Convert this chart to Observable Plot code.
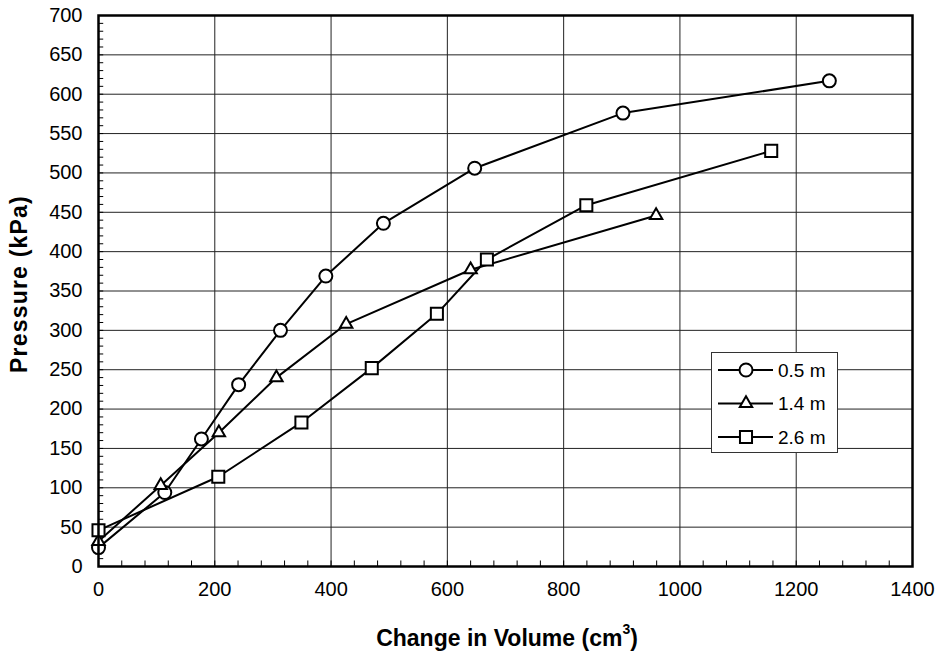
<!DOCTYPE html>
<html><head><meta charset="utf-8">
<script src="https://cdn.jsdelivr.net/npm/d3@7"></script>
<script src="https://cdn.jsdelivr.net/npm/@observablehq/plot@0.6"></script>
<style>
body{margin:0;background:#fff;font-family:"Liberation Sans",Arial,sans-serif;}
#wrap{position:relative;width:940px;height:660px;}
.ytitle{position:absolute;left:19px;top:284px;transform:translate(-50%,-50%) rotate(-90deg);font-weight:bold;font-size:23px;letter-spacing:1.2px;white-space:nowrap;}
.xtitle{position:absolute;left:507px;top:638px;transform:translate(-50%,-50%);font-weight:bold;font-size:23px;white-space:nowrap;}
.xtitle sup{font-size:14px;position:relative;top:-3px;}
#legend{position:absolute;left:711px;top:352px;width:125px;height:99px;border:1px solid #333;background:#fff;}
svg.chart text{font-size:20px;}
</style></head><body>
<div id="wrap"></div>
<script>
// ---- data ----
const seriesNames = ["0.5 m", "1.4 m", "2.6 m"];
const seriesSymbols = ["circle", "triangle", "square"];
const vol05 = [0, 114, 177, 241, 313, 391, 490, 647, 902, 1257];
const p05   = [24, 94, 162, 231, 300, 369, 436, 506, 576, 617];
const vol14 = [0, 107, 207, 306, 426, 640, 959];
const p14   = [32, 103, 170, 240, 308, 377, 446];
const vol26 = [0, 206, 349, 470, 582, 668, 839, 1157];
const p26   = [46, 114, 183, 252, 321, 390, 459, 528];
const xTicks = [0, 200, 400, 600, 800, 1000, 1200, 1400];
const yTicks = [0, 50, 100, 150, 200, 250, 300, 350, 400, 450, 500, 550, 600, 650, 700];
const xMinor = d3.range(0, 1401, 40);
const yMinor = d3.range(0, 701, 10);

const seriesX = [vol05, vol14, vol26];
const seriesY = [p05, p14, p26];
const data = seriesNames.flatMap((name, i) =>
  seriesX[i].map((x, j) => ({series: name, x, y: seriesY[i][j]})));
const symR = {circle: 6.5, triangle: 4.6, square: 6.8};

const plot = Plot.plot({
  width: 940, height: 660,
  marginLeft: 98, marginRight: 28, marginTop: 15, marginBottom: 94,
  className: "chart",
  style: {fontFamily: "'Liberation Sans', Arial, sans-serif", fontSize: "20px", color: "black", background: "white"},
  x: {domain: [0, 1400], label: null},
  y: {domain: [0, 700], label: null},
  marks: [
    Plot.gridX(xTicks, {stroke: "#222", strokeOpacity: 1, strokeWidth: 1}),
    Plot.gridY(yTicks, {stroke: "#222", strokeOpacity: 1, strokeWidth: 1}),
    Plot.ruleX(xMinor, {y1: 0, y2: 7, stroke: "black", strokeWidth: 1}),
    Plot.ruleY(yMinor, {x1: 0, x2: 9, stroke: "black", strokeWidth: 1}),
    Plot.line(data, {x: "x", y: "y", z: "series", stroke: "black", strokeWidth: 2}),
    ...seriesNames.map((name, i) => Plot.dot(data.filter(d => d.series === name), {
      x: "x", y: "y", symbol: seriesSymbols[i], r: symR[seriesSymbols[i]],
      fill: "white", stroke: "black", strokeWidth: 2
    })),
    Plot.axisX(xTicks, {tickSize: 0, tickPadding: 15, fontSize: 20, tickFormat: d => String(d), label: null}),
    Plot.axisY(yTicks, {tickSize: 0, tickPadding: 16, fontSize: 20, tickFormat: d => String(d), label: null}),
    Plot.frame({stroke: "black", strokeWidth: 2.5})
  ]
});

const wrap = document.getElementById("wrap");
wrap.appendChild(plot);

const yt = document.createElement("div");
yt.className = "ytitle"; yt.textContent = "Pressure (kPa)";
wrap.appendChild(yt);
const xt = document.createElement("div");
xt.className = "xtitle"; xt.innerHTML = "Change in Volume (cm<sup>3</sup>)";
wrap.appendChild(xt);

// legend
const leg = document.createElement("div");
leg.id = "legend";
wrap.appendChild(leg);
const lsvg = d3.select(leg).append("svg").attr("width", 125).attr("height", 99)
  .style("font-family", "'Liberation Sans', Arial, sans-serif").style("font-size", "19px");
const symMap = {circle: d3.symbolCircle, triangle: d3.symbolTriangle, square: d3.symbolSquare};
seriesNames.forEach((name, i) => {
  const cy = 17 + i * 33.5;
  const g = lsvg.append("g").attr("transform", `translate(0,${cy})`);
  g.append("line").attr("x1", 6).attr("x2", 61).attr("stroke", "black").attr("stroke-width", 2);
  const r = symR[seriesSymbols[i]];
  g.append("path").attr("transform", "translate(34,0)")
    .attr("d", d3.symbol(symMap[seriesSymbols[i]], r * r * Math.PI)())
    .attr("fill", "white").attr("stroke", "black").attr("stroke-width", 2);
  g.append("text").attr("x", 66).attr("dy", "0.35em").text(name);
});
</script>
</body></html>
